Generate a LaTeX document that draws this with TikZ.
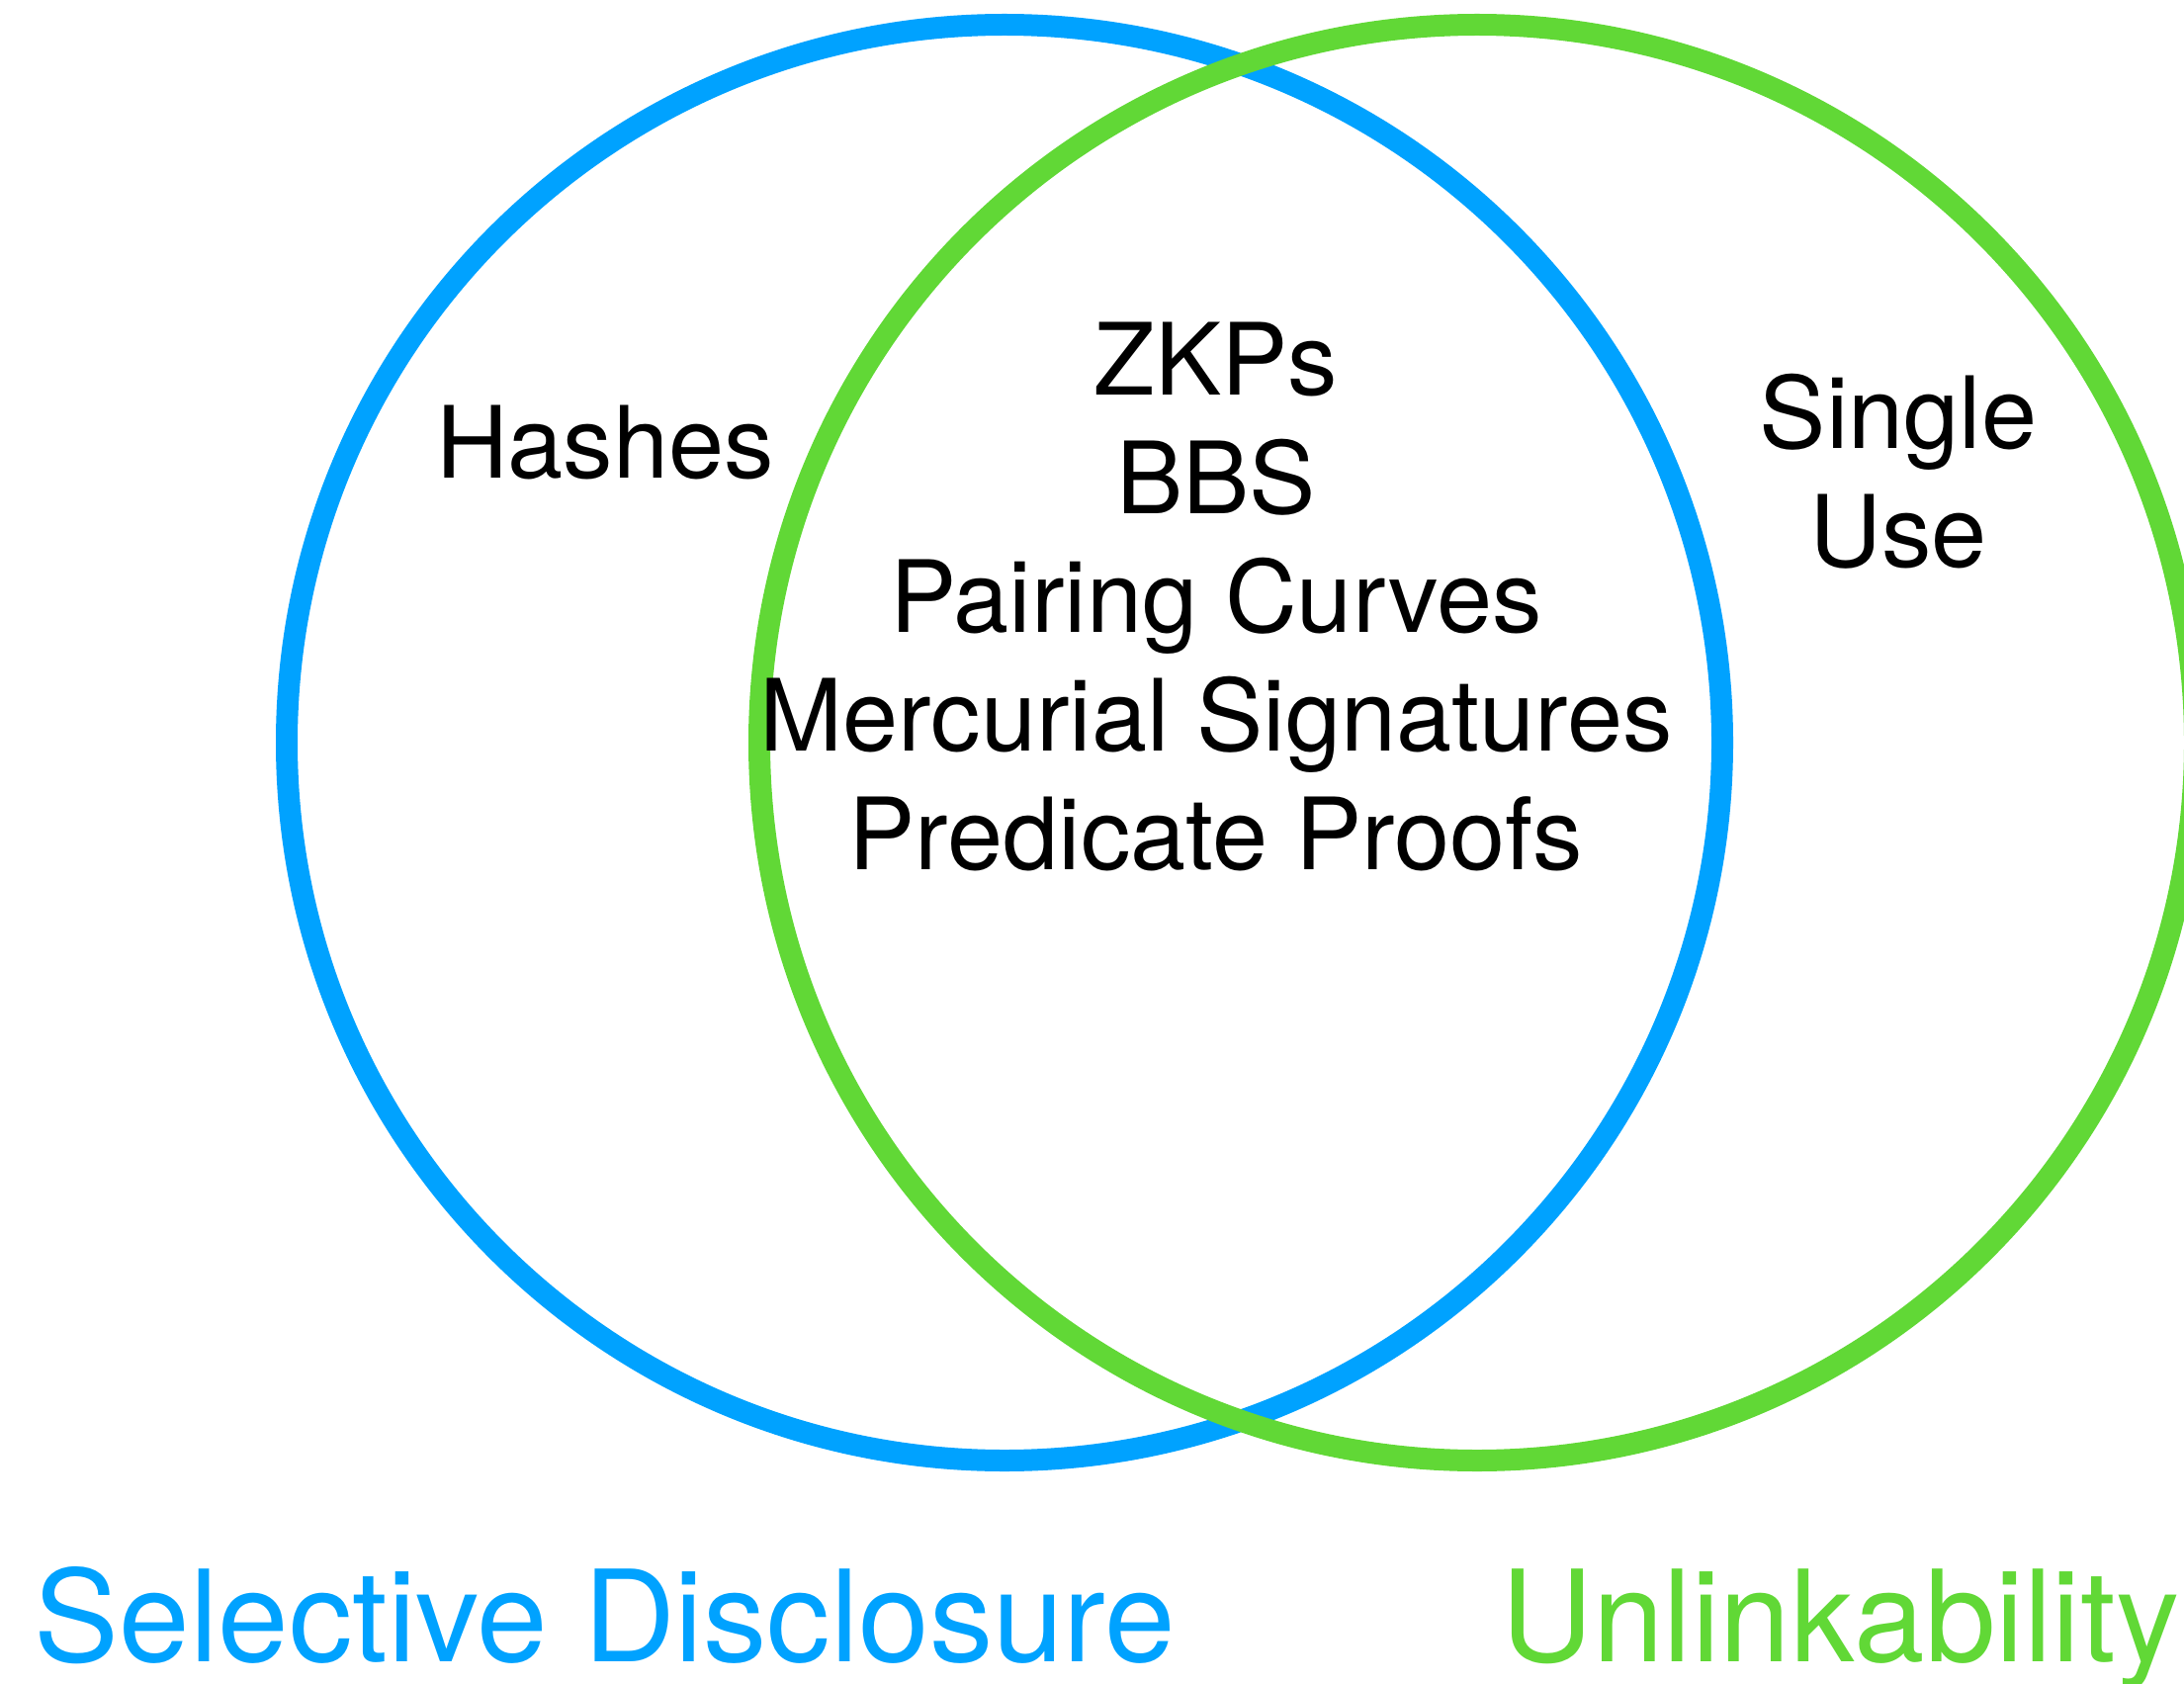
\documentclass[tikz,border=0pt]{standalone}
\usepackage{fontspec}
\setmainfont{TeX Gyre Heros}
\usetikzlibrary{positioning}
\definecolor{sdblue}{RGB}{0,162,255}
\definecolor{ulgreen}{RGB}{97,216,54}

\begin{document}
\begin{tikzpicture}[
  ring/.style={line width=0.22cm},
  sdring/.style={ring, draw=sdblue}, ulring/.style={ring, draw=ulgreen},
  lbl/.style={font=\fontsize{28.7pt}{34.14pt}\selectfont, align=center, inner sep=0pt, anchor=base},
  setname/.style={font=\fontsize{36.6pt}{43pt}\selectfont, inner sep=0pt, anchor=base},
]
\useasboundingbox (0,0) rectangle (22.09,17.02);
\coordinate (sdc) at (10.16,9.51);
\coordinate (ulc) at (14.94,9.51);
\draw[sdring] (sdc) circle (7.26);
\draw[ulring] (ulc) circle (7.26);
% base of a multi-line node is its last line
\node[lbl] (hashes) at (6.12,12.18) {Hashes};
\node[lbl] (core) at (12.30,8.23) {ZKPs\\BBS\\Pairing Curves\\Mercurial Signatures\\Predicate Proofs};
\node[lbl] (single) at (19.20,11.29) {Single\\Use};
\node[setname, text=sdblue] (sdname) at (6.12,0.22) {Selective Disclosure};
\node[setname, text=ulgreen, anchor=base west] (ulname) at (15.18,0.22) {Unlinkability};
\end{tikzpicture}
\end{document}
